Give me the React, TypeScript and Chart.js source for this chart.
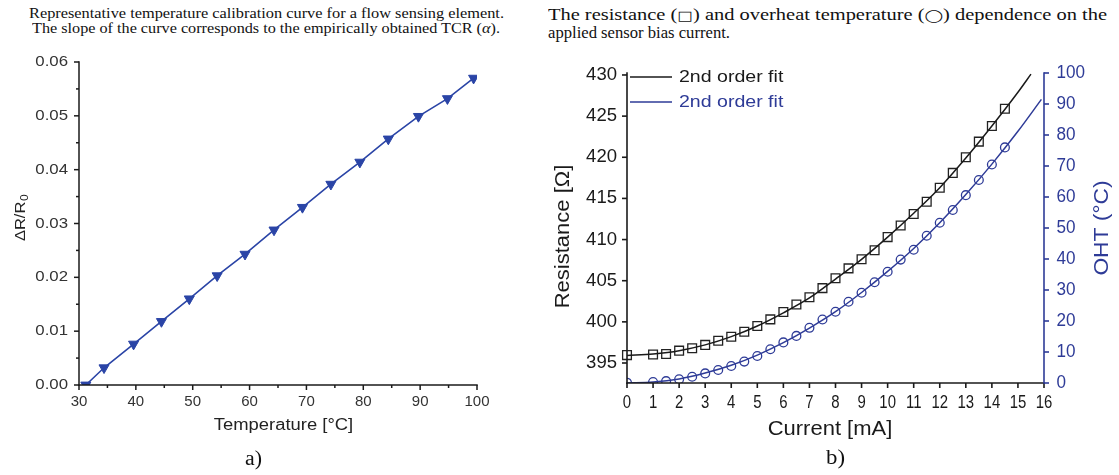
import React, { useEffect, useLayoutEffect, useRef } from 'react';
import { Chart, registerables } from 'chart.js';

Chart.register(...registerables);

// ---------- Panel a: calibration curve ----------
const temperatureC = [31.2, 34.4, 39.6, 44.5, 49.4, 54.3, 59.2, 64.3, 69.3, 74.3, 79.4, 84.4, 89.7, 94.8, 99.4];
const deltaROverR0 = [0.0, 0.0032, 0.0076, 0.0118, 0.016, 0.0203, 0.0243, 0.0288, 0.033, 0.0373, 0.0414, 0.0457, 0.0499, 0.0532, 0.057];
const temperatureTicks = [30, 40, 50, 60, 70, 80, 90, 100];
const temperatureMinorTicks = [35, 45, 55, 65, 75, 85, 95];
const ratioTicks = [0, 0.01, 0.02, 0.03, 0.04, 0.05, 0.06];
const ratioMinorTicks = [0.005, 0.015, 0.025, 0.035, 0.045, 0.055];

// ---------- Panel b: resistance and overheat vs. bias current ----------
const biasCurrentMA = [0, 1, 1.5, 2, 2.5, 3, 3.5, 4, 4.5, 5, 5.5, 6, 6.5, 7, 7.5, 8, 8.5, 9, 9.5, 10, 10.5, 11, 11.5, 12, 12.5, 13, 13.5, 14, 14.5];
const resistanceOhm = [395.96, 396.04, 396.1, 396.5, 396.8, 397.2, 397.7, 398.2, 398.8, 399.5, 400.3, 401.2, 402.1, 403.0, 404.1, 405.3, 406.5, 407.6, 408.7, 410.3, 411.7, 413.1, 414.6, 416.3, 418.1, 420.0, 421.9, 423.8, 425.9];
const overheatC = [0.1, 0.3, 0.6, 1.2, 2.0, 3.1, 4.2, 5.5, 6.9, 8.7, 10.9, 13.1, 15.2, 17.8, 20.5, 23.0, 26.2, 29.1, 32.5, 35.9, 39.8, 43.0, 47.5, 51.7, 55.8, 60.6, 65.5, 70.5, 76.0];
const resistanceFitCurrentMA = [0, 1, 2, 3, 4, 5, 6, 7, 8, 9, 10, 11, 12, 13, 14, 15, 15.5];
const resistanceFitOhm = [395.9, 396.1, 396.5, 397.2, 398.2, 399.5, 401.1, 402.9, 405.2, 407.6, 410.3, 413.2, 416.3, 419.9, 423.8, 427.9, 430.1];
const overheatFitCurrentMA = [0, 1, 2, 3, 4, 5, 6, 7, 8, 9, 10, 11, 12, 13, 14, 15, 15.9];
const overheatFitC = [0, 0.3, 1.3, 3.2, 5.7, 9.0, 13.0, 17.7, 23.0, 29.2, 36.0, 43.4, 51.7, 60.8, 70.6, 81.2, 91.5];
const currentTicks = [0, 1, 2, 3, 4, 5, 6, 7, 8, 9, 10, 11, 12, 13, 14, 15, 16];
const resistanceTicks = [395, 400, 405, 410, 415, 420, 425, 430];
const overheatTicks = [0, 10, 20, 30, 40, 50, 60, 70, 80, 90, 100];

const BLUE_A = '#2a44a6';
const BLUE_B = '#2e3b97';
const INK = '#1a1a1a';
const SANS = '"Liberation Sans", Arial, sans-serif';
const SERIF = '"Liberation Serif", "Times New Roman", serif';

type Side = 'left' | 'right' | 'bottom';
interface AxisDraw {
  scaleId: string;
  side: Side;
  color: string;
  lineWidth: number;
  major: number[];
  minor: number[];
  majorLen: number;
  minorLen: number;
  font: string;
  labelColor: string;
  offset: number;
  sx: number;
  format: (v: number) => string;
}
interface TitleDraw {
  text: string;
  sub?: string;
  subFont?: string;
  x: number;
  y: number;
  font: string;
  color: string;
  sx: number;
  rotate: number;
}
interface LegendRow {
  datasetIndex: number;
  textColor: string;
}

function paintText(
  ctx: CanvasRenderingContext2D,
  text: string,
  x: number,
  y: number,
  font: string,
  color: string,
  align: CanvasTextAlign,
  sx: number,
  rotate = 0
) {
  ctx.save();
  ctx.translate(x, y);
  if (rotate) ctx.rotate(rotate);
  ctx.scale(sx, 1);
  ctx.font = font;
  ctx.fillStyle = color;
  ctx.textAlign = align;
  ctx.textBaseline = 'middle';
  ctx.fillText(text, 0, 0);
  ctx.restore();
}

// Axis lines, ticks, tick labels, axis titles and an inline legend, all placed
// through the chart's own scales.
function framePlugin(id: string, axes: AxisDraw[], titles: TitleDraw[], legend: LegendRow[] = []) {
  return {
    id,
    afterDatasetsDraw(chart: any) {
      const ctx: CanvasRenderingContext2D = chart.ctx;
      const area = chart.chartArea;
      ctx.save();
      axes.forEach((ax) => {
        const scale = chart.scales[ax.scaleId];
        ctx.strokeStyle = ax.color;
        ctx.lineWidth = ax.lineWidth;
        ctx.lineCap = 'square';
        ctx.beginPath();
        if (ax.side === 'bottom') {
          ctx.moveTo(area.left, area.bottom);
          ctx.lineTo(area.right, area.bottom);
        } else {
          const x = ax.side === 'left' ? area.left : area.right;
          ctx.moveTo(x, area.top);
          ctx.lineTo(x, area.bottom);
        }
        ctx.stroke();
        ctx.lineCap = 'butt';
        const tick = (v: number, len: number) => {
          const p = scale.getPixelForValue(v);
          ctx.beginPath();
          if (ax.side === 'bottom') {
            ctx.moveTo(p, area.bottom);
            ctx.lineTo(p, area.bottom + len);
          } else if (ax.side === 'left') {
            ctx.moveTo(area.left, p);
            ctx.lineTo(area.left - len, p);
          } else {
            ctx.moveTo(area.right, p);
            ctx.lineTo(area.right + len, p);
          }
          ctx.stroke();
        };
        ax.minor.forEach((v) => tick(v, ax.minorLen));
        ax.major.forEach((v) => {
          tick(v, ax.majorLen);
          const p = scale.getPixelForValue(v);
          const label = ax.format(v);
          if (ax.side === 'bottom') {
            paintText(ctx, label, p, area.bottom + ax.offset, ax.font, ax.labelColor, 'center', ax.sx);
          } else if (ax.side === 'left') {
            paintText(ctx, label, area.left - ax.offset, p, ax.font, ax.labelColor, 'right', ax.sx);
          } else {
            paintText(ctx, label, area.right + ax.offset, p, ax.font, ax.labelColor, 'left', ax.sx);
          }
        });
      });

      titles.forEach((t) => {
        if (!t.sub) {
          paintText(ctx, t.text, t.x, t.y, t.font, t.color, 'center', t.sx, t.rotate);
          return;
        }
        ctx.save();
        ctx.translate(t.x, t.y);
        ctx.rotate(t.rotate);
        ctx.scale(t.sx, 1);
        ctx.fillStyle = t.color;
        ctx.textBaseline = 'middle';
        ctx.textAlign = 'left';
        ctx.font = t.font;
        const mainW = ctx.measureText(t.text).width;
        ctx.font = t.subFont || t.font;
        const subW = ctx.measureText(t.sub).width;
        const start = -(mainW + subW) / 2;
        ctx.font = t.font;
        ctx.fillText(t.text, start, 0);
        ctx.font = t.subFont || t.font;
        ctx.fillText(t.sub, start + mainW + 0.5, 4);
        ctx.restore();
      });

      legend.forEach((row, i) => {
        const ds = chart.data.datasets[row.datasetIndex];
        const y = area.top + 4 + i * 25;
        ctx.strokeStyle = ds.borderColor;
        ctx.lineWidth = ds.borderWidth;
        ctx.beginPath();
        ctx.moveTo(area.left + 3, y);
        ctx.lineTo(area.left + 45, y);
        ctx.stroke();
        paintText(ctx, ds.label, area.left + 52, y, `17px ${SANS}`, row.textColor, 'left', 1.15);
      });
      ctx.restore();
    },
  };
}

function CalibrationChart() {
  const ref = useRef<HTMLCanvasElement>(null);
  useEffect(() => {
    if (!ref.current) return;
    const chart = new Chart(ref.current, {
      type: 'line',
      data: {
        datasets: [
          {
            label: 'ΔR/R0',
            data: temperatureC.map((t, i) => ({ x: t, y: deltaROverR0[i] })),
            borderColor: BLUE_A,
            backgroundColor: BLUE_A,
            borderWidth: 1.6,
            pointStyle: 'triangle',
            pointRotation: 180,
            pointRadius: 5.8,
            pointBorderWidth: 1,
            tension: 0,
          },
        ],
      },
      options: {
        animation: false,
        responsive: false,
        devicePixelRatio: 1,
        events: [],
        layout: { padding: { left: 79, right: 63, top: 62, bottom: 90 } },
        scales: {
          x: { type: 'linear', min: 30, max: 100, display: false },
          y: { type: 'linear', min: 0, max: 0.06, display: false },
        },
        plugins: { legend: { display: false }, tooltip: { enabled: false } },
      },
      plugins: [
        framePlugin(
          'calibrationFrame',
          [
            {
              scaleId: 'x', side: 'bottom', color: INK, lineWidth: 1.5,
              major: temperatureTicks, minor: temperatureMinorTicks, majorLen: 5, minorLen: 3,
              font: `15px ${SANS}`, labelColor: '#333', offset: 17, sx: 1.0,
              format: (v) => String(v),
            },
            {
              scaleId: 'y', side: 'left', color: INK, lineWidth: 1.5,
              major: ratioTicks, minor: ratioMinorTicks, majorLen: 5, minorLen: 3,
              font: `15px ${SANS}`, labelColor: '#333', offset: 11, sx: 1.12,
              format: (v) => v.toFixed(2),
            },
          ],
          [
            { text: 'Temperature [°C]', x: 283.5, y: 426, font: `16px ${SANS}`, color: '#222', sx: 1.15, rotate: 0 },
            { text: 'ΔR/R', sub: '0', subFont: `11px ${SANS}`, x: 21, y: 218, font: `15px ${SANS}`, color: '#222', sx: 1.1, rotate: -Math.PI / 2 },
          ]
        ),
      ],
    } as any);
    return () => chart.destroy();
  }, []);
  return <canvas ref={ref} width={540} height={475} style={{ position: 'absolute', left: 0, top: 0 }} />;
}

function BiasCurrentChart() {
  const ref = useRef<HTMLCanvasElement>(null);
  useEffect(() => {
    if (!ref.current) return;
    const chart = new Chart(ref.current, {
      type: 'line',
      data: {
        datasets: [
          {
            label: '2nd order fit',
            data: resistanceFitCurrentMA.map((c, i) => ({ x: c, y: resistanceFitOhm[i] })),
            yAxisID: 'yR',
            borderColor: INK,
            borderWidth: 1.5,
            pointRadius: 0,
            cubicInterpolationMode: 'monotone',
          },
          {
            label: 'Resistance',
            data: biasCurrentMA.map((c, i) => ({ x: c, y: resistanceOhm[i] })),
            yAxisID: 'yR',
            showLine: false,
            pointStyle: 'rect',
            pointRadius: 6.2,
            pointBorderWidth: 1.3,
            borderColor: '#222',
            backgroundColor: 'rgba(0,0,0,0)',
            clip: false,
          },
          {
            label: '2nd order fit',
            data: overheatFitCurrentMA.map((c, i) => ({ x: c, y: overheatFitC[i] })),
            yAxisID: 'yT',
            borderColor: BLUE_B,
            borderWidth: 1.5,
            pointRadius: 0,
            cubicInterpolationMode: 'monotone',
          },
          {
            label: 'OHT',
            data: biasCurrentMA.map((c, i) => ({ x: c, y: overheatC[i] })),
            yAxisID: 'yT',
            showLine: false,
            pointStyle: 'circle',
            pointRadius: 4.4,
            pointBorderWidth: 1.3,
            borderColor: BLUE_B,
            backgroundColor: 'rgba(0,0,0,0)',
          },
        ],
      },
      options: {
        animation: false,
        responsive: false,
        devicePixelRatio: 1,
        events: [],
        layout: { padding: { left: 87, right: 75, top: 73, bottom: 92 } },
        scales: {
          x: { type: 'linear', min: 0, max: 16, display: false },
          yR: { type: 'linear', position: 'left', min: 392.57, max: 430.24, display: false },
          yT: { type: 'linear', position: 'right', min: 0, max: 100, display: false },
        },
        plugins: { legend: { display: false }, tooltip: { enabled: false } },
      },
      plugins: [
        framePlugin(
          'biasFrame',
          [
            {
              scaleId: 'x', side: 'bottom', color: INK, lineWidth: 1.6,
              major: currentTicks, minor: [], majorLen: 5, minorLen: 0,
              font: `18px ${SANS}`, labelColor: INK, offset: 20.5, sx: 0.83,
              format: (v) => String(v),
            },
            {
              scaleId: 'yR', side: 'left', color: INK, lineWidth: 1.6,
              major: resistanceTicks, minor: [], majorLen: 5, minorLen: 0,
              font: `18px ${SANS}`, labelColor: INK, offset: 10, sx: 1.03,
              format: (v) => String(v),
            },
            {
              scaleId: 'yT', side: 'right', color: BLUE_B, lineWidth: 1.6,
              major: overheatTicks, minor: [], majorLen: 5, minorLen: 0,
              font: `18px ${SANS}`, labelColor: BLUE_B, offset: 12.5, sx: 0.95,
              format: (v) => String(v),
            },
          ],
          [
            { text: 'Current [mA]', x: 290, y: 429, font: `20px ${SANS}`, color: INK, sx: 1.1, rotate: 0 },
            { text: 'Resistance [Ω]', x: 23.5, y: 236.5, font: `20px ${SANS}`, color: INK, sx: 1.1, rotate: -Math.PI / 2 },
            { text: 'OHT (°C)', x: 562, y: 228, font: `20px ${SANS}`, color: BLUE_B, sx: 1.14, rotate: -Math.PI / 2 },
          ],
          [
            { datasetIndex: 0, textColor: INK },
            { datasetIndex: 2, textColor: BLUE_B },
          ]
        ),
      ],
    } as any);
    return () => chart.destroy();
  }, []);
  return <canvas ref={ref} width={579} height={475} style={{ position: 'absolute', left: 540, top: 0 }} />;
}

// Serif caption text stretched horizontally to a given run length.
function StretchText(props: {
  x: number;
  baseline: number;
  width: number;
  size: number;
  color?: string;
  children: React.ReactNode;
}) {
  const { x, baseline, width, size, color = '#111', children } = props;
  const ref = useRef<HTMLSpanElement>(null);
  useLayoutEffect(() => {
    const el = ref.current;
    if (!el) return;
    el.style.transform = 'none';
    const natural = el.getBoundingClientRect().width;
    if (natural > 0) el.style.transform = `scaleX(${width / natural})`;
  });
  return (
    <span
      ref={ref}
      style={{
        position: 'absolute',
        left: x,
        top: baseline - size * 0.8375,
        fontFamily: SERIF,
        fontSize: size,
        lineHeight: `${size}px`,
        color,
        whiteSpace: 'nowrap',
        transformOrigin: '0 0',
      }}
    >
      {children}
    </span>
  );
}

const symbolStyle: React.CSSProperties = { fontFamily: '"DejaVu Sans", sans-serif', fontSize: 13 };

export default function App() {
  return (
    <div style={{ position: 'absolute', left: 0, top: 0, width: 1119, height: 475, background: '#fff', overflow: 'hidden' }}>
      <StretchText x={29} baseline={18.3} width={475} size={14}>
        Representative temperature calibration curve for a flow sensing element.
      </StretchText>
      <StretchText x={32} baseline={33.3} width={468} size={14}>
        The slope of the curve corresponds to the empirically obtained TCR (<i>α</i>).
      </StretchText>
      <StretchText x={548} baseline={20} width={559} size={16}>
        The resistance (<span style={symbolStyle}>□</span>) and overheat temperature (<span style={symbolStyle}>◯</span>) dependence on the
      </StretchText>
      <StretchText x={548} baseline={38} width={182} size={16}>
        applied sensor bias current.
      </StretchText>
      <CalibrationChart />
      <BiasCurrentChart />
      <StretchText x={245} baseline={465} width={17} size={20}>
        a)
      </StretchText>
      <StretchText x={826} baseline={464} width={19} size={20}>
        b)
      </StretchText>
    </div>
  );
}
